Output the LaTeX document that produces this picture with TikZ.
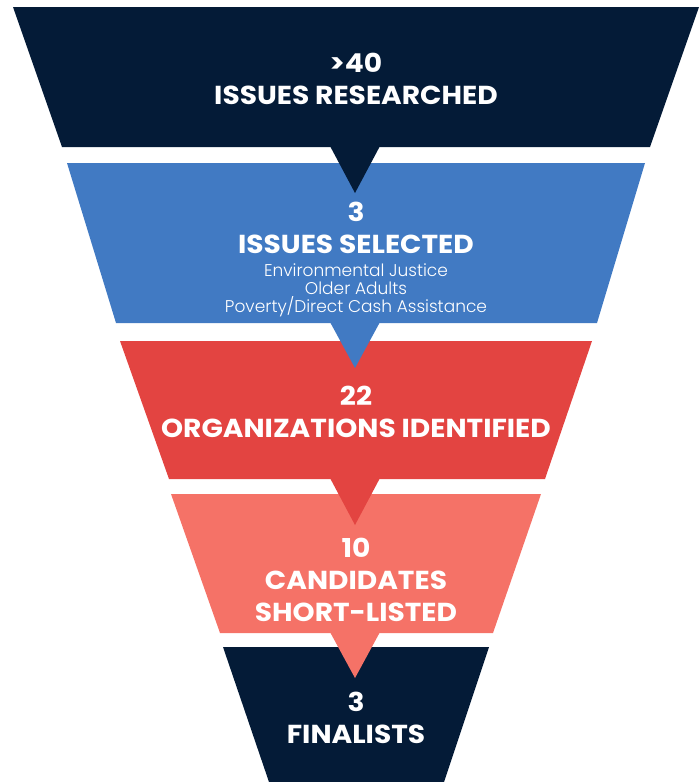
\documentclass[tikz,border=0pt]{standalone}
\usepackage{fontspec}
\setmainfont{Poppins}
\newfontfamily\headfont{Poppins}[FakeStretch=1.08]
\newfontfamily\listfont{Poppins}[UprightFont=* Light]
\usetikzlibrary{positioning}

\definecolor{navy}{HTML}{041B37}
\definecolor{steel}{HTML}{417AC3}
\definecolor{brick}{HTML}{E34441}
\definecolor{salmon}{HTML}{F57267}

\tikzset{
  headline/.style={text=white, align=center, inner sep=0pt,
    font=\headfont\bfseries\fontsize{26}{32}\selectfont},
  itemline/.style={text=white, align=center, inner sep=0pt,
    font=\listfont\fontsize{17}{18}\selectfont}
}

\begin{document}
\begin{tikzpicture}[x=1pt,y=-1pt]
        \useasboundingbox (0,0) rectangle (700,782);

        % funnel stages
        \fill[navy] (13,7) -- (699,7) -- (650,147) -- (62,147) -- cycle;
        \fill[steel] (67,163) -- (645,163) -- (597,323) -- (116,323) -- cycle;
        \fill[brick] (120,341) -- (592,341) -- (545,479) -- (169,479) -- cycle;
        \fill[salmon] (171,494) -- (541,494) -- (493,633) -- (220,633) -- cycle;
        \fill[navy] (223,647) -- (489,647) -- (444,782) -- (269,782) -- cycle;

        % pointers
        \fill[navy] (330,146) -- (380,146) -- (355,193) -- cycle;
        \fill[steel] (330,322) -- (380,322) -- (355,368) -- cycle;
        \fill[brick] (330,478) -- (380,478) -- (355,525) -- cycle;
        \fill[salmon] (330,632) -- (380,632) -- (355,678) -- cycle;

        % labels
        \node[headline] (researched) at (356,79) {>40\\ISSUES RESEARCHED};
        \node[headline] (selected) at (356,228) {3\\ISSUES SELECTED};
        \node[itemline, below=9.5pt of selected] (topics) {Environmental Justice\\Older Adults\\Poverty/Direct Cash Assistance};
        \node[headline] (identified) at (356,412) {22\\ORGANIZATIONS IDENTIFIED};
        \node[headline] (shortlisted) at (356,580) {10\\CANDIDATES\\SHORT-LISTED};
        \node[headline] (finalists) at (356,718) {3\\FINALISTS};
\end{tikzpicture}
\end{document}
